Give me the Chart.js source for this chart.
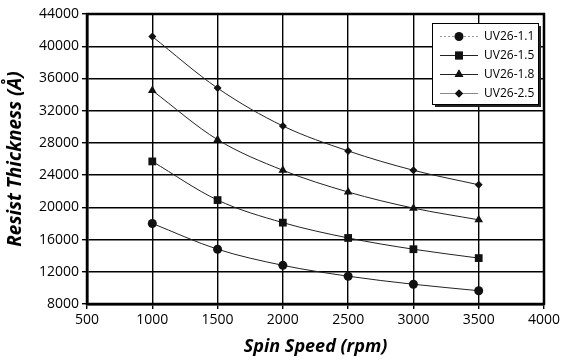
<!DOCTYPE html>
<html>
<head>
<meta charset="utf-8">
<script src="https://cdn.jsdelivr.net/npm/chart.js@4"></script>
<style>
  html, body { margin: 0; padding: 0; background: #fff; }
  #wrap { width: 563px; height: 362px; }
</style>
</head>
<body>
<div id="wrap"><canvas id="spin" width="563" height="362"></canvas></div>
<script>
// spin speed (rpm)
var speeds = [1000, 1500, 2000, 2500, 3000, 3500];

// resist thickness (Å)
var uv11 = [18000, 14800, 12800, 11450, 10450, 9650];
var uv15 = [25700, 20900, 18100, 16200, 14800, 13700];
var uv18 = [34500, 28400, 24600, 21900, 19900, 18450];
var uv25 = [41200, 34800, 30100, 27000, 24600, 22800];

var seriesNames = ["UV26-1.1", "UV26-1.5", "UV26-1.8", "UV26-2.5"];
var seriesData = [uv11, uv15, uv18, uv25];
var markers = ["circle", "rect", "triangle", "rectRot"];
var markerSize = [4.5, 5.5, 5, 4];

var fontFam = "'Open Sans', 'DejaVu Sans', sans-serif";

function pts(vals) {
    return speeds.map(function (s, i) { return { x: s, y: vals[i] }; });
}

var datasets = seriesData.map(function (vals, i) {
    return {
        label: seriesNames[i],
        data: pts(vals),
        borderColor: "#222",
        backgroundColor: "#111",
        borderWidth: 1,
        pointStyle: markers[i],
        pointRadius: markerSize[i],
        pointBorderWidth: 0,
        tension: 0.4,
        cubicInterpolationMode: "monotone",
        fill: false
    };
});

// box around the plot area
var frame = {
    id: "frame",
    afterDraw: function (chart) {
        var a = chart.chartArea, c = chart.ctx;
        c.save();
        c.strokeStyle = "#000";
        c.lineWidth = 2.5;
        c.strokeRect(a.left, a.top, a.right - a.left, a.bottom - a.top);
        c.restore();
    }
};

// boxed legend inside the top-right corner, with shadow
var boxLegend = {
    id: "boxLegend",
    afterDraw: function (chart) {
        var c = chart.ctx;
        var x = 432, y = 23, w = 106, h = 81;
        c.save();
        c.fillStyle = "#222";
        c.fillRect(x + 3, y + 3, w, h);
        c.fillStyle = "#fff";
        c.fillRect(x, y, w, h);
        c.strokeStyle = "#000";
        c.lineWidth = 1;
        c.strokeRect(x + 0.5, y + 0.5, w, h);
        c.font = "12px " + fontFam;
        c.textBaseline = "middle";
        for (var i = 0; i < seriesNames.length; i++) {
            var ly = y + 13 + i * 19;
            c.strokeStyle = i === 0 ? "#999" : (i === 3 ? "#888" : "#222");
            c.setLineDash(i === 0 ? [2, 2] : []);
            c.beginPath();
            c.moveTo(x + 8, ly + 0.5);
            c.lineTo(x + 46, ly + 0.5);
            c.stroke();
            c.setLineDash([]);
            Chart.helpers.drawPoint(c, {
                pointStyle: markers[i],
                radius: markerSize[i],
                borderWidth: 0
            }, x + 27, ly + 0.5);
            c.fillStyle = "#111";
            c.fill();
            c.fillStyle = "#000";
            c.fillText(seriesNames[i], x + 52, ly + 1);
        }
        c.restore();
    }
};

function plain(v) { return String(v); }

new Chart(document.getElementById("spin"), {
    type: "line",
    data: { datasets: datasets },
    plugins: [frame, boxLegend],
    options: {
        responsive: false,
        animation: false,
        layout: { padding: { top: 14, right: 17, left: 0, bottom: 0 } },
        plugins: {
            legend: { display: false },
            tooltip: { enabled: false }
        },
        scales: {
            x: {
                type: "linear",
                min: 500,
                max: 4000,
                ticks: { stepSize: 500, color: "#000", font: { size: 14, family: fontFam }, padding: 3, maxRotation: 0, callback: plain },
                grid: { color: "#000", lineWidth: 1.4, tickLength: 5, tickColor: "#000" },
                border: { color: "#000", width: 2.5 },
                title: {
                    display: true,
                    text: "Spin Speed (rpm)",
                    color: "#000",
                    font: { size: 18, weight: "bold", style: "italic", family: fontFam },
                    padding: { top: 6 }
                },
                afterFit: function (s) { s.height = 58; }
            },
            y: {
                min: 8000,
                max: 44000,
                ticks: { stepSize: 4000, color: "#000", font: { size: 14, family: fontFam }, padding: 3, callback: plain },
                grid: { color: "#000", lineWidth: 1.4, tickLength: 5, tickColor: "#000" },
                border: { color: "#000", width: 2.5 },
                title: {
                    display: true,
                    text: "Resist Thickness (Å)",
                    color: "#000",
                    font: { size: 19, weight: "bold", style: "italic", family: fontFam },
                    padding: { bottom: 2 }
                },
                afterFit: function (s) { s.width = 87; }
            }
        }
    }
});
</script>
</body>
</html>
